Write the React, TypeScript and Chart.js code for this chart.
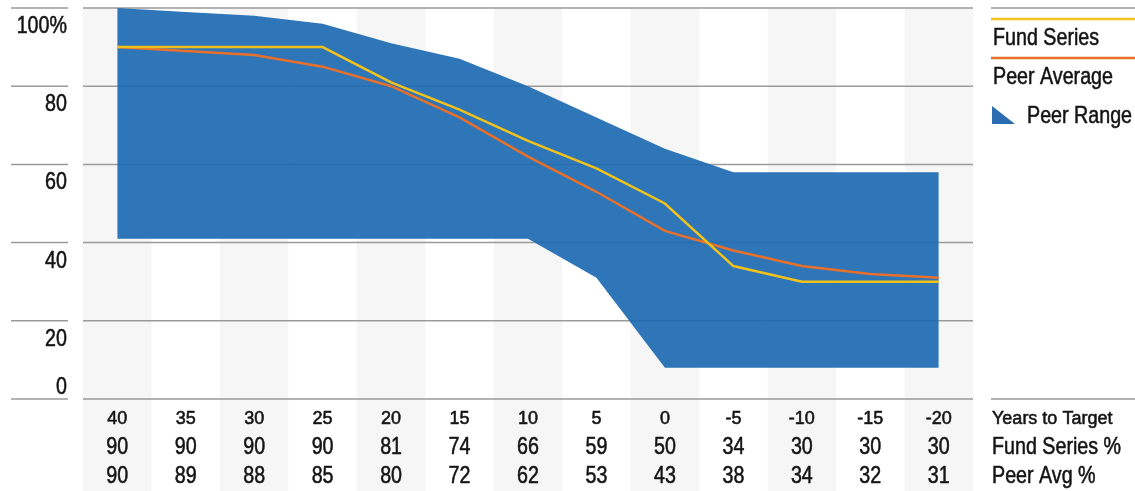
import React, { useEffect, useRef } from "react";
import { Chart, registerables } from "chart.js";

Chart.register(...registerables);

// ---- data ----
const yearsToTarget = ["40", "35", "30", "25", "20", "15", "10", "5", "0", "-5", "-10", "-15", "-20"];
const fundSeries = [90, 90, 90, 90, 81, 74, 66, 59, 50, 34, 30, 30, 30];
const peerAverage = [90, 89, 88, 85, 80, 72, 62, 53, 43, 38, 34, 32, 31];
const peerRangeHigh = [100, 99, 98, 96, 91, 87, 80, 72, 64, 58, 58, 58, 58];
const peerRangeLow = [41, 41, 41, 41, 41, 41, 41, 31, 8, 8, 8, 8, 8];
const yTickValues = [0, 20, 40, 60, 80, 100];
const yTickLabels = ["0", "20", "40", "60", "80", "100%"];
const tableRowLabels = ["Years to Target", "Fund Series %", "Peer Avg %"];
const legendLabels = ["Fund Series", "Peer Average", "Peer Range"];

// ---- styles ----
const BLUE_FILL = "rgba(28,106,178,0.92)";
const BLUE_ICON = "#2a6db2";
const YELLOW = "#f2c11a";
const ORANGE = "#e8702a";
const GRID = "#9a9a9a";
const BAND = "#f6f6f6";
const TEXT = "#141414";
const FONT = "'Liberation Sans', Arial, sans-serif";

function drawText(
  ctx: CanvasRenderingContext2D,
  text: string,
  x: number,
  y: number,
  align: CanvasTextAlign,
  size: number,
  condensed: boolean
) {
  ctx.save();
  ctx.fillStyle = TEXT;
  ctx.strokeStyle = TEXT;
  ctx.lineWidth = 0.55;
  ctx.lineJoin = "round";
  ctx.font = `${size}px ${FONT}`;
  ctx.textBaseline = "alphabetic";
  ctx.textAlign = align;
  ctx.translate(x, y);
  if (condensed) ctx.scale(0.82, 1);
  ctx.fillText(text, 0, 0);
  ctx.strokeText(text, 0, 0);
  ctx.restore();
}

const decorPlugin = {
  id: "decor",
  beforeDraw(chart: any) {
    const ctx: CanvasRenderingContext2D = chart.ctx;
    const xs = chart.scales.x;
    const ys = chart.scales.y;
    const area = chart.chartArea;
    const w = xs.getPixelForValue(1) - xs.getPixelForValue(0);
    ctx.save();
    // alternating column bands
    ctx.fillStyle = BAND;
    for (let i = 0; i < yearsToTarget.length; i += 2) {
      const cx = xs.getPixelForValue(i);
      ctx.fillRect(cx - w / 2, area.top, w, chart.height - area.top);
    }
    // gridlines
    ctx.strokeStyle = GRID;
    ctx.lineWidth = 1.5;
    yTickValues.forEach((v) => {
      const y = ys.getPixelForValue(v);
      ctx.beginPath();
      ctx.moveTo(11, y);
      ctx.lineTo(68, y);
      ctx.moveTo(area.left, y);
      ctx.lineTo(area.right, y);
      if (v === 0 || v === 100) {
        ctx.moveTo(991, y);
        ctx.lineTo(chart.width, y);
      }
      ctx.stroke();
    });
    ctx.restore();
  },
  afterDraw(chart: any) {
    const ctx: CanvasRenderingContext2D = chart.ctx;
    const xs = chart.scales.x;
    const ys = chart.scales.y;
    // y labels
    yTickValues.forEach((v, i) => {
      const y = ys.getPixelForValue(v);
      const by = v === 0 ? y - 5 : y + 25;
      drawText(ctx, yTickLabels[i], 67, by, "right", 24, true);
    });
    // legend
    ctx.save();
    ctx.lineWidth = 2.5;
    ctx.strokeStyle = YELLOW;
    ctx.beginPath();
    ctx.moveTo(991, 19);
    ctx.lineTo(chart.width, 19);
    ctx.stroke();
    ctx.strokeStyle = ORANGE;
    ctx.beginPath();
    ctx.moveTo(991, 58);
    ctx.lineTo(chart.width, 58);
    ctx.stroke();
    ctx.fillStyle = BLUE_ICON;
    ctx.beginPath();
    ctx.moveTo(992, 106);
    ctx.lineTo(992, 124);
    ctx.lineTo(1015, 124);
    ctx.closePath();
    ctx.fill();
    ctx.restore();
    drawText(ctx, legendLabels[0], 993, 45, "left", 24, true);
    drawText(ctx, legendLabels[1], 993, 83.5, "left", 24, true);
    drawText(ctx, legendLabels[2], 1027, 122.5, "left", 24, true);
    // table
    const rowBase = [424, 454, 483];
    yearsToTarget.forEach((lab, i) => {
      const cx = xs.getPixelForValue(i);
      drawText(ctx, lab, cx, rowBase[0], "center", 18, false);
      drawText(ctx, String(fundSeries[i]), cx, rowBase[1], "center", 24, true);
      drawText(ctx, String(peerAverage[i]), cx, rowBase[2], "center", 24, true);
    });
    drawText(ctx, tableRowLabels[0], 992, rowBase[0], "left", 18, false);
    drawText(ctx, tableRowLabels[1], 992, rowBase[1], "left", 24, true);
    drawText(ctx, tableRowLabels[2], 992, rowBase[2], "left", 24, true);
  },
};

export default function App() {
  const canvasRef = useRef<HTMLCanvasElement | null>(null);

  useEffect(() => {
    const canvas = canvasRef.current;
    if (!canvas) return;
    const chart = new Chart(canvas, {
      type: "line",
      data: {
        labels: yearsToTarget,
        datasets: [
          {
            label: "Fund Series",
            data: fundSeries,
            borderColor: YELLOW,
            borderWidth: 2.5,
            pointRadius: 0,
            tension: 0,
            fill: false,
          },
          {
            label: "Peer Average",
            data: peerAverage,
            borderColor: ORANGE,
            borderWidth: 2.5,
            pointRadius: 0,
            tension: 0,
            fill: false,
          },
          {
            label: "Peer Range",
            data: peerRangeHigh,
            borderColor: "rgba(0,0,0,0)",
            backgroundColor: BLUE_FILL,
            borderWidth: 0,
            pointRadius: 0,
            tension: 0,
            fill: "+1",
          },
          {
            label: "Peer Range Low",
            data: peerRangeLow,
            borderColor: "rgba(0,0,0,0)",
            borderWidth: 0,
            pointRadius: 0,
            tension: 0,
            fill: false,
          },
        ],
      },
      options: {
        animation: false,
        responsive: false,
        maintainAspectRatio: false,
        layout: { padding: { left: 83, right: 162, top: 8, bottom: 92 } },
        scales: {
          x: { type: "category", offset: true, display: false },
          y: { min: 0, max: 100, display: false },
        },
        plugins: {
          legend: { display: false },
          tooltip: { enabled: false },
        },
      },
      plugins: [decorPlugin],
    });
    return () => chart.destroy();
  }, []);

  return (
    <div style={{ position: "fixed", left: 0, top: 0, width: 1135, height: 491, background: "#fff" }}>
      <canvas ref={canvasRef} width={1135} height={491} style={{ width: 1135, height: 491, display: "block" }} />
    </div>
  );
}
